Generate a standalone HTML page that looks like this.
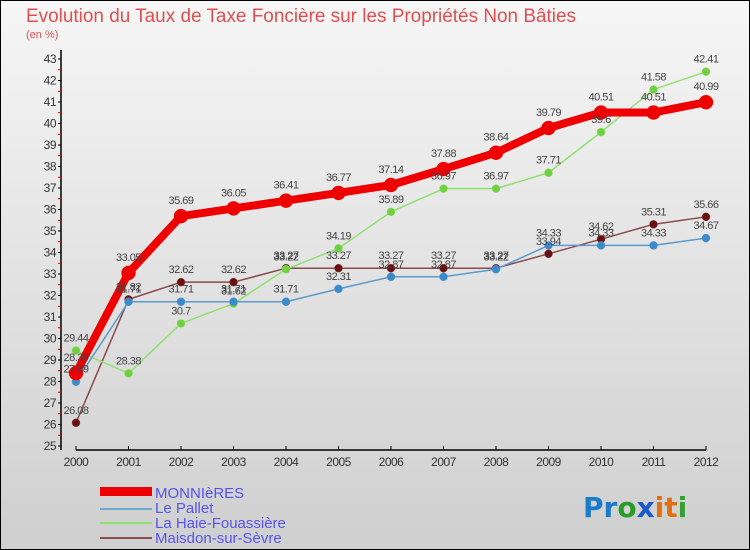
<!DOCTYPE html>
<html><head><meta charset="utf-8"><style>
body{margin:0;width:750px;height:550px;overflow:hidden;font-family:"Liberation Sans",sans-serif}
svg{display:block}
</style></head><body>
<svg width="750" height="550" xmlns="http://www.w3.org/2000/svg">
<defs><linearGradient id="bg" x1="0" y1="0" x2="0" y2="1"><stop offset="0" stop-color="#f6f6f6"/><stop offset="1" stop-color="#cfcfcf"/></linearGradient></defs>
<rect x="0.5" y="0.5" width="749" height="549" fill="url(#bg)" stroke="#000"/>
<text x="26" y="22" font-size="19" fill="#e05050" textLength="550" lengthAdjust="spacingAndGlyphs">Evolution du Taux de Taxe Foncière sur les Propriétés Non Bâties</text>
<text x="26" y="38" font-size="11" fill="#e05050">(en %)</text>
<g id="axes"></g>
<g id="series"></g>
<g id="labels" font-size="11" fill="#444" text-anchor="middle" letter-spacing="-0.5"></g>
<g font-size="15" fill="#5555ee">
<rect x="100" y="487" width="52" height="9" fill="#e00"/>
<text x="155" y="498">MONNIèRES</text>
<rect x="100" y="508" width="52" height="2" fill="#6fa8d0"/>
<text x="155" y="513">Le Pallet</text>
<rect x="100" y="522" width="52" height="2" fill="#90e070"/>
<text x="155" y="528">La Haie-Fouassière</text>
<rect x="100" y="537" width="52" height="2" fill="#8a5050"/>
<text x="155" y="543">Maisdon-sur-Sèvre</text>
</g>
<g font-size="28" font-weight="bold" font-family="'DejaVu Sans',sans-serif">
<text x="583" y="517"><tspan fill="#1a7acc">P</tspan><tspan fill="#1a7acc">r</tspan><tspan fill="#2a9a2a">o</tspan><tspan fill="#1a5acc">x</tspan><tspan fill="#e07010">i</tspan><tspan fill="#e07010">t</tspan><tspan fill="#30a030">i</tspan></text>
</g>
</svg>
<script>
const years=[2000,2001,2002,2003,2004,2005,2006,2007,2008,2009,2010,2011,2012];
const monnieres=[28.39,33.05,35.69,36.05,36.41,36.77,37.14,37.88,38.64,39.79,40.51,40.51,40.99];
const lePallet=[27.99,31.71,31.71,31.71,31.71,32.31,32.87,32.87,33.22,34.33,34.33,34.33,34.67];
const laHaie=[29.44,28.38,30.7,31.62,33.22,34.19,35.89,36.97,36.97,37.71,39.6,41.58,42.41];
const maisdon=[26.08,31.82,32.62,32.62,33.27,33.27,33.27,33.27,33.27,33.94,34.62,35.31,35.66];
const yTicks=[25,26,27,28,29,30,31,32,33,34,35,36,37,38,39,40,41,42,43];
const NS="http://www.w3.org/2000/svg";
const X=i=>76+i*52.5;
const Y=v=>446-(v-25)*21.5;
function mk(tag,attrs,parent){const e=document.createElementNS(NS,tag);for(const k in attrs)e.setAttribute(k,attrs[k]);parent.appendChild(e);return e;}
const ax=document.getElementById('axes');
let e=mk('line',{x1:61,y1:50,x2:61,y2:450,stroke:'#000','stroke-width':1.5},ax);


e=mk('line',{x1:76,y1:450,x2:706,y2:450,stroke:'#000','stroke-width':1.5},ax);


yTicks.forEach(t=>{
 mk('line',{x1:58,y1:Y(t),x2:61,y2:Y(t),stroke:'#000'},ax);
 if(t<43)mk('line',{x1:58,y1:Y(t+0.5),x2:61,y2:Y(t+0.5),stroke:'#e00'},ax);
 const tx=mk('text',{x:56,y:Y(t)+4,'font-size':12,'text-anchor':'end',fill:'#333','letter-spacing':'-0.5'},ax);
 tx.textContent=t;
 
 
});
years.forEach((y,i)=>{
 mk('line',{x1:X(i),y1:446,x2:X(i),y2:450,stroke:'#000'},ax);
 const tx=mk('text',{x:X(i),y:466,'font-size':12,'text-anchor':'middle',fill:'#333','letter-spacing':'-0.5'},ax);
 tx.textContent=y;
 
 
});
const sg=document.getElementById('series'),lg=document.getElementById('labels');
function series(vals,color,dot,w,r,name,labelDy){
 const g=mk('g',{},sg);
 
 
 const p=mk('polyline',{points:vals.map((v,i)=>X(i)+','+Y(v)).join(' '),fill:'none',stroke:color,'stroke-width':w,'stroke-linejoin':'round'},g);
 
 
 vals.forEach((v,i)=>{
  const c=mk('circle',{cx:X(i),cy:Y(v),r:r,fill:dot,stroke:color,'stroke-width':0.5},g);
  
  
  const t=mk('text',{x:X(i),y:Y(v)-labelDy},lg);
  t.textContent=v;
  
  
 });
}
series(maisdon,'#8a4a4a','#6a1010',1.5,4,'maisdon',9);
series(laHaie,'#90e070','#70d040',1.5,4,'la-haie',9);
series(lePallet,'#5a9acc','#3a8acc',1.5,4,'le-pallet',9);
series(monnieres,'#ee0000','#ee0000',8,7,'monnieres',12);
</script>
</body></html>
